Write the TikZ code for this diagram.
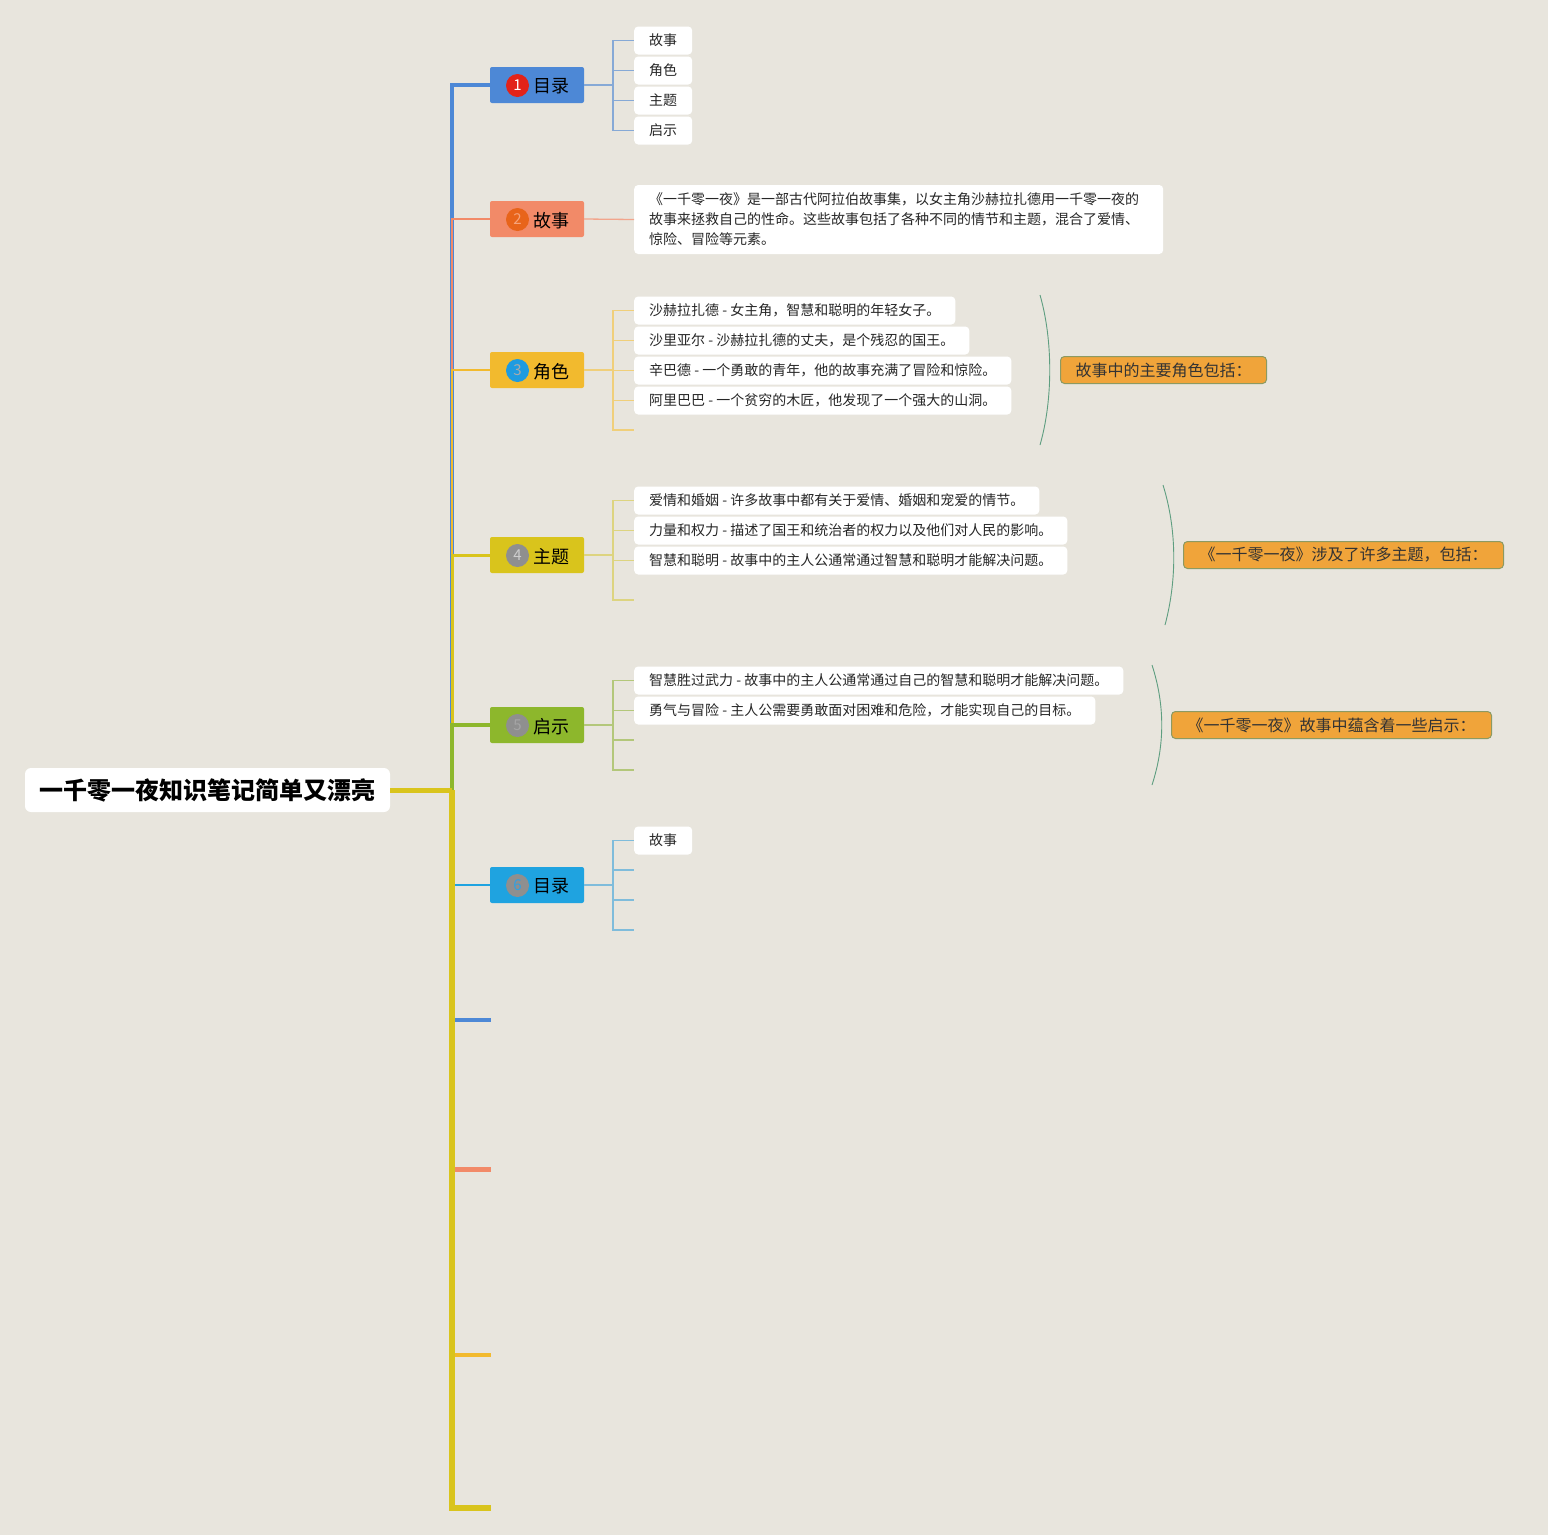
\documentclass[tikz,border=0pt]{standalone}
\usepackage{fontspec}
\setmainfont{Noto Sans CJK SC}
\definecolor{bg}{HTML}{E8E5DD}
\definecolor{cA}{HTML}{4D88D6}
\definecolor{cB}{HTML}{F28A68}
\definecolor{cC}{HTML}{F2BA2E}
\definecolor{cD}{HTML}{D9C41C}
\definecolor{cE}{HTML}{8DB72C}
\definecolor{cF}{HTML}{1FA3E0}
\definecolor{lA}{HTML}{86A9D6}
\definecolor{lB}{HTML}{F2A58C}
\definecolor{lC}{HTML}{F0CF7A}
\definecolor{lD}{HTML}{DDD480}
\definecolor{lE}{HTML}{B3C77A}
\definecolor{lF}{HTML}{7FBCDB}
\definecolor{sumfill}{HTML}{F0A43A}
\definecolor{sumline}{HTML}{8C9A62}
\definecolor{arcline}{HTML}{5E9E80}
\definecolor{numgrey}{HTML}{8F8F8F}
\definecolor{nred}{HTML}{E2231A}
\definecolor{norange}{HTML}{E8641A}
\definecolor{norangetxt}{HTML}{F6A37A}
\definecolor{nblue}{HTML}{1E9BE0}
\definecolor{nbluetxt}{HTML}{AAAAAA}
\definecolor{ngreytxtA}{HTML}{CDCDCD}
\definecolor{ngreytxtB}{HTML}{A5A5A5}
\definecolor{ngreytxtC}{HTML}{32A0E0}
\begin{document}
\begin{tikzpicture}[x=1pt,y=-1pt,
  root/.style={fill=white, rounded corners=6pt, minimum width=365pt, minimum height=44pt, inner sep=0pt, font=\fontsize{24}{24}\selectfont\bfseries},
  branchbox/.style={rounded corners=2pt, minimum width=94pt, minimum height=36pt, inner sep=0pt},
  num/.style={circle, minimum size=23pt, inner sep=0pt, font=\fontsize{15}{15}\selectfont},
  blabel/.style={inner sep=0pt, font=\fontsize{18}{18}\selectfont},
  leaf/.style={fill=white, rounded corners=4pt, anchor=west, minimum height=28pt, inner xsep=15pt, inner ysep=0pt, text=black!85, font=\fontsize{14}{20}\selectfont},
  summ/.style={fill=sumfill, draw=sumline, line width=1pt, rounded corners=4pt, anchor=west, minimum height=27pt, inner sep=0pt, text=black!80, font=\fontsize{16}{16}\selectfont},
  lk/.style={line width=1.3pt},
  arcst/.style={arcline, line width=0.9pt}
]
\fill[bg] (0,0) rectangle (1548,1535);
\useasboundingbox (0,0) rectangle (1548,1535);

% root
\node[root] (root) at (207.5,790) {一千零一夜知识笔记简单又漂亮};
\coordinate (J) at (452,790);

% branch boxes
\node[branchbox, fill=cA] (b1) at (537,85) {};
\node[branchbox, fill=cB] (b2) at (537,219) {};
\node[branchbox, fill=cC] (b3) at (537,370) {};
\node[branchbox, fill=cD] (b4) at (537,555) {};
\node[branchbox, fill=cE] (b5) at (537,725) {};
\node[branchbox, fill=cF] (b6) at (537,885) {};

\node[num, fill=nred, text=white] (n1) at (517.5,85.5) {1};
\node[num, fill=norange, text=norangetxt] (n2) at (517.5,219.5) {2};
\node[num, fill=nblue, text=nbluetxt] (n3) at (517.5,370.5) {3};
\node[num, fill=numgrey, text=ngreytxtA] (n4) at (517.5,555.5) {4};
\node[num, fill=numgrey, text=ngreytxtB] (n5) at (517.5,725.5) {5};
\node[num, fill=numgrey, text=ngreytxtC] (n6) at (517.5,885.5) {6};

\node[blabel] (t1) at (551.5,86.5) {目录};
\node[blabel] (t2) at (551.5,220.5) {故事};
\node[blabel] (t3) at (551.5,371.5) {角色};
\node[blabel] (t4) at (551.5,556.5) {主题};
\node[blabel] (t5) at (551.5,726.5) {启示};
\node[blabel] (t6) at (551.5,886.5) {目录};

% bottom stubs
\coordinate (s1) at (491,1020);
\coordinate (s2) at (491,1169);
\coordinate (s3) at (491,1355);
\coordinate (s4) at (491,1508);

% trunk connectors
\draw[cA, line width=3.5pt] (J) |- (b1.west);
\draw[cB, line width=2.8pt] (J) |- (b2.west);
\draw[cC, line width=2.5pt] (J) |- (b3.west);
\draw[cD, line width=3pt] (J) |- (b4.west);
\draw[cE, line width=4.5pt] (J) |- (b5.west);
\draw[cF, line width=2pt] (J) |- (b6.west);
\draw[cA, line width=4pt] (J) |- (s1);
\draw[cB, line width=5pt] (J) |- (s2);
\draw[cC, line width=4pt] (J) |- (s3);
\draw[cD, line width=6pt] (J) |- (s4);
\draw[cD, line width=5pt] (root.east) -- (J);

% ---- branch 1 leaves
\node[leaf] (l11) at (634,40.5) {故事};
\node[leaf] (l12) at (634,70.5) {角色};
\node[leaf] (l13) at (634,100.5) {主题};
\node[leaf] (l14) at (634,130.5) {启示};
\coordinate (k1) at (613,85);
\draw[lA, lk] (b1.east) -- (k1);
\foreach \t in {l11,l12,l13,l14} \draw[lA, lk] (k1) |- (\t.west);

% ---- branch 2
\node[leaf, minimum height=69pt, text width=499pt, align=left] (l21) at (634,219.5) {《一千零一夜》是一部古代阿拉伯故事集，以女主角沙赫拉扎德用一千零一夜的\\故事来拯救自己的性命。这些故事包括了各种不同的情节和主题，混合了爱情、\\惊险、冒险等元素。};
\draw[lB, lk] (b2.east) -- (l21.west);

% ---- branch 3
\node[leaf] (l31) at (634,310.5) {沙赫拉扎德 - 女主角，智慧和聪明的年轻女子。};
\node[leaf] (l32) at (634,340.5) {沙里亚尔 - 沙赫拉扎德的丈夫，是个残忍的国王。};
\node[leaf] (l33) at (634,370.5) {辛巴德 - 一个勇敢的青年，他的故事充满了冒险和惊险。};
\node[leaf] (l34) at (634,400.5) {阿里巴巴 - 一个贫穷的木匠，他发现了一个强大的山洞。};
\coordinate (e31) at (634,430);
\coordinate (k3) at (613,370);
\draw[lC, lk] (b3.east) -- (k3);
\foreach \t in {l31,l32,l33,l34} \draw[lC, lk] (k3) |- (\t.west);
\draw[lC, lk] (k3) |- (e31);
\coordinate (a3a) at (1040,295);
\coordinate (a3b) at (1040,445);
\draw[arcst] (a3a) .. controls (1053,340) and (1053,400) .. (a3b);
\node[summ, minimum width=206pt] (m3) at (1060,370) {故事中的主要角色包括：};

% ---- branch 4
\node[leaf] (l41) at (634,500.5) {爱情和婚姻 - 许多故事中都有关于爱情、婚姻和宠爱的情节。};
\node[leaf] (l42) at (634,530.5) {力量和权力 - 描述了国王和统治者的权力以及他们对人民的影响。};
\node[leaf] (l43) at (634,560.5) {智慧和聪明 - 故事中的主人公通常通过智慧和聪明才能解决问题。};
\coordinate (e41) at (634,600);
\coordinate (k4) at (613,555);
\draw[lD, lk] (b4.east) -- (k4);
\foreach \t in {l41,l42,l43} \draw[lD, lk] (k4) |- (\t.west);
\draw[lD, lk] (k4) |- (e41);
\coordinate (a4a) at (1163,485);
\coordinate (a4b) at (1165,625);
\draw[arcst] (a4a) .. controls (1177,530) and (1177,580) .. (a4b);
\node[summ, minimum width=320pt] (m4) at (1183,555) {《一千零一夜》涉及了许多主题，包括：};

% ---- branch 5
\node[leaf] (l51) at (634,680.5) {智慧胜过武力 - 故事中的主人公通常通过自己的智慧和聪明才能解决问题。};
\node[leaf] (l52) at (634,710.5) {勇气与冒险 - 主人公需要勇敢面对困难和危险，才能实现自己的目标。};
\coordinate (e51) at (634,740);
\coordinate (e52) at (634,770);
\coordinate (k5) at (613,725);
\draw[lE, lk] (b5.east) -- (k5);
\foreach \t in {l51,l52} \draw[lE, lk] (k5) |- (\t.west);
\draw[lE, lk] (k5) |- (e51);
\draw[lE, lk] (k5) |- (e52);
\coordinate (a5a) at (1152,665);
\coordinate (a5b) at (1152,785);
\draw[arcst] (a5a) .. controls (1165,705) and (1165,745) .. (a5b);
\node[summ, minimum width=320pt] (m5) at (1171,725) {《一千零一夜》故事中蕴含着一些启示：};

% ---- branch 6
\node[leaf] (l61) at (634,840.5) {故事};
\coordinate (e61) at (634,870);
\coordinate (e62) at (634,900);
\coordinate (e63) at (634,930);
\coordinate (k6) at (613,885);
\draw[lF, lk] (b6.east) -- (k6);
\draw[lF, lk] (k6) |- (l61.west);
\draw[lF, lk] (k6) |- (e61);
\draw[lF, lk] (k6) |- (e62);
\draw[lF, lk] (k6) |- (e63);
\end{tikzpicture}
\end{document}
